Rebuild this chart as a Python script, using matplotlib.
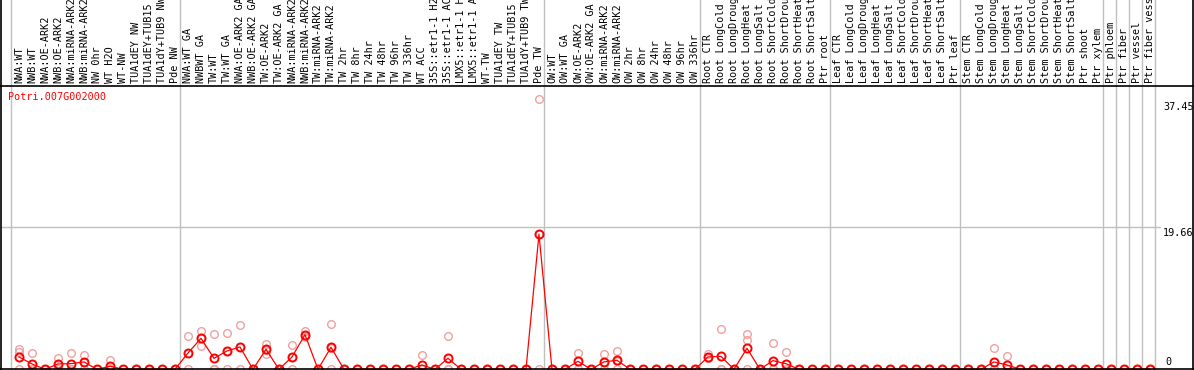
import matplotlib
matplotlib.use("Agg")
import matplotlib.pyplot as plt
from matplotlib.lines import Line2D
from matplotlib.transforms import blended_transform_factory

# sample labels (top of chart)
samples = [
    "NWA:WT", "NWB:WT", "NWA:OE-ARK2", "NWB:OE-ARK2", "NWA:miRNA-ARK2", "NWB:miRNA-ARK2",
    "NW 0hr", "WT H2O", "WT-NW", "TUA1dEY NW", "TUA1dEY+TUB15 NW", "TUA1dY+TUB9 NW", "Pde NW",
    "NWA:WT GA", "NWBWT GA", "TW:WT", "TW:WT GA", "NWA:OE-ARK2 GA", "NWB:OE-ARK2 GA",
    "TW:OE-ARK2", "TW:OE-ARK2 GA", "NWA:miRNA-ARK2", "NWB:miRNA-ARK2", "TW:miRNA-ARK2",
    "TW:miRNA-ARK2", "TW 2hr", "TW 8hr", "TW 24hr", "TW 48hr", "TW 96hr", "TW 336hr",
    "WT ACC", "35S::etr1-1 H2O", "35S::etr1-1 ACC", "LMX5::etr1-1 H2O", "LMX5::etr1-1 ACC",
    "WT-TW", "TUA1dEY TW", "TUA1dEY+TUB15 TW", "TUA1dY+TUB9 TW", "Pde TW",
    "OW:WT", "OW:WT GA", "OW:OE-ARK2", "OW:OE-ARK2 GA", "OW:miRNA-ARK2", "OW:miRNA-ARK2",
    "OW 2hr", "OW 8hr", "OW 24hr", "OW 48hr", "OW 96hr", "OW 336hr",
    "Root CTR", "Root LongCold", "Root LongDrought", "Root LongHeat", "Root LongSalt",
    "Root ShortCold", "Root ShortDrought", "Root ShortHeat", "Root ShortSalt", "Ptr root",
    "Leaf CTR", "Leaf LongCold", "Leaf LongDrought", "Leaf LongHeat", "Leaf LongSalt",
    "Leaf ShortCold", "Leaf ShortDrought", "Leaf ShortHeat", "Leaf ShortSalt", "Ptr leaf",
    "Stem CTR", "Stem LongCold", "Stem LongDrought", "Stem LongHeat", "Stem LongSalt",
    "Stem ShortCold", "Stem ShortDrought", "Stem ShortHeat", "Stem ShortSalt", "Ptr shoot",
    "Ptr xylem", "Ptr phloem", "Ptr fiber", "Ptr vessel", "Ptr fiber vessel",
]

# mean expression per sample
means = [
    1.71, 0.74, 0, 0.74, 0.78, 1.02, 0, 0.42, 0, 0, 0, 0, 0,
    2.26, 4.29, 1.52, 2.54, 3.09, 0, 2.77, 0, 1.71, 4.80, 0, 3.05,
    0, 0, 0, 0, 0, 0, 0.60, 0, 1.52, 0, 0, 0, 0, 0, 0, 18.72,
    0, 0, 1.11, 0, 1.02, 1.25, 0, 0, 0, 0, 0, 0,
    1.71, 1.80, 0, 2.91, 0, 1.20, 0.78, 0, 0, 0,
    0, 0, 0, 0, 0, 0, 0, 0, 0, 0,
    0, 0, 1.02, 0.60, 0, 0, 0, 0, 0, 0,
    0, 0, 0, 0, 0,
]

# replicate values
rep1 = [
    2.77, 2.26, 0, 1.52, 2.26, 1.99, 0, 1.25, 0, 0, 0, 0, 0,
    4.57, 5.36, 4.89, 4.99, 6.09, 0, 3.51, 0, 3.37, 5.31, 0, 6.28,
    0, 0, 0, 0, 0, 0, 1.99, 0, 4.62, 0, 0, 0, 0, 0, 0, 37.45,
    0, 0, 2.22, 0, 2.12, 2.54, 0, 0, 0, 0, 0, 0,
    2.12, 5.59, 0, 4.89, 0, 3.69, 2.35, 0, 0, 0,
    0, 0, 0, 0, 0, 0, 0, 0, 0, 0,
    0, 0, 2.91, 1.85, 0, 0, 0, 0, 0, 0,
    0, 0, 0, 0, 0,
]
rep2 = [
    2.45, 0, 0, 0.70, 0, 1.00, 0, 0, 0, 0, 0, 0, 0,
    2.20, 3.23, 0, 2.60, 3.10, 0, 2.12, 0, 1.70, 4.60, 0, 2.90,
    0, 0, 0, 0, 0, 0, 0, 0, 0, 0, 0, 0, 0, 0, 0, 18.70,
    0, 0, 1.10, 0, 0.95, 1.20, 0, 0, 0, 0, 0, 0,
    1.52, 0, 0, 4.06, 0, 0, 0, 0, 0, 0,
    0, 0, 0, 0, 0, 0, 0, 0, 0, 0,
    0, 0, 0, 0, 0, 0, 0, 0, 0, 0,
    0, 0, 0, 0, 0,
]
rep3 = [
    0, 0, 0, 0, 0, 0, 0, 0, 0, 0, 0, 0, 0,
    0, 4.29, 0, 0, 0, 0, 2.70, 0, 0, 4.50, 0, 0,
    0, 0, 0, 0, 0, 0, 0, 0, 0, 0, 0, 0, 0, 0, 0, 0,
    0, 0, 0, 0, 0, 0, 0, 0, 0, 0, 0, 0,
    1.50, 0, 0, 0, 0, 0, 0, 0, 0, 0,
    0, 0, 0, 0, 0, 0, 0, 0, 0, 0,
    0, 0, 0, 0, 0, 0, 0, 0, 0, 0,
    0, 0, 0, 0, 0,
]

gene = "Potri.007G002000"
# group separators sit just after these sample positions
separators = [-0.615, 12.38, 40.38, 52.38, 62.38, 72.38, 83.38, 84.38, 85.38, 86.38, 87.38]

W, H = 1194, 370
fig = plt.figure(figsize=(W / 100, H / 100), dpi=100)
ax = fig.add_axes([1 / W, 0, 1160 / W, 284.5 / H])
ax.set_xlim(-1.385, 87.85)
ax.set_ylim(-0.097, 39.31)
ax.axis("off")

x = list(range(len(samples)))
mono = "DejaVu Sans Mono"
fs = 7.3

# separators run through the label area too
tr = blended_transform_factory(ax.transData, fig.transFigure)
for s in separators:
    ax.plot([s, s], [0, 1], color="#c0c0c0", lw=1, transform=tr, clip_on=False, zorder=1)

ax.axhline(19.66, color="#c0c0c0", lw=1, zorder=1)

# replicates
for rep in (rep1, rep2, rep3):
    ax.plot(x, rep, linestyle="none", marker="o", markersize=5.5, mfc="none",
            mec="#f0a0a0", mew=1.0, zorder=2)

# mean line
ax.plot(x, means, color="red", lw=0.9, marker="o", markersize=5.8, mfc="none",
        mec="red", mew=1.4, zorder=3)

# sample labels
for i, name in enumerate(samples):
    ax.text(i, (H - 83) / H, name, transform=tr, rotation=90, ha="center", va="bottom",
            fontsize=fs, family=mono, color="black")

fig.text(8 / W, 1 - 97 / H, gene, color="red", fontsize=fs, family=mono, va="center")

# value labels at the right
fig.text(1163 / W, 1 - 107 / H, "37.45", fontsize=fs, family=mono, va="center")
fig.text(1163 / W, 1 - 233 / H, "19.66", fontsize=fs, family=mono, va="center")
fig.text(1165 / W, 1 - 362 / H, "0", fontsize=fs, family=mono, va="center")

# frame
fig.add_artist(Line2D([0.5 / W, 0.5 / W], [0, 1], color="black", lw=1.2))
fig.add_artist(Line2D([1193 / W, 1193 / W], [0, 1], color="black", lw=1.2))
fig.add_artist(Line2D([0, 1], [1 - 85.5 / H, 1 - 85.5 / H], color="black", lw=1.2))
fig.add_artist(Line2D([0, 1], [0.7 / H, 0.7 / H], color="black", lw=1.2))

fig.savefig("out.png", dpi=100)
